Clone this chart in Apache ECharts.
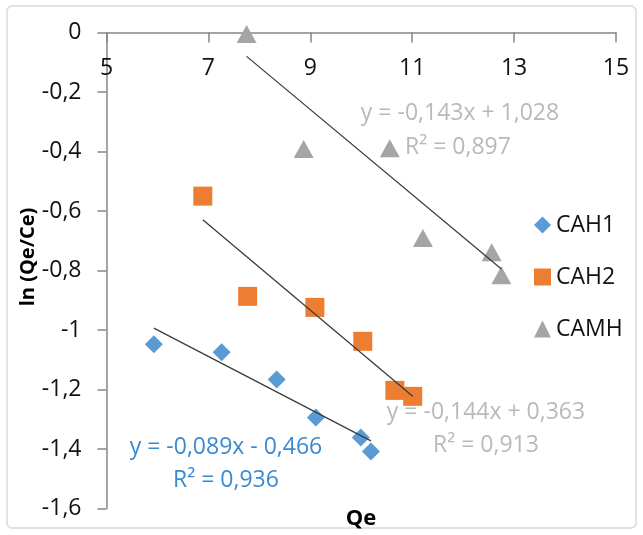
<!DOCTYPE html>
<html>
<head>
<meta charset="utf-8">
<script src="https://cdn.jsdelivr.net/npm/echarts/dist/echarts.min.js"></script>
<style>
  html, body { margin: 0; padding: 0; background: #ffffff; }
  #chart { width: 643px; height: 535px; }
</style>
</head>
<body>
<div id="chart"></div>
<script>
// Measured points for each sorbent: Qe and ln(Qe/Ce)
const seriesNames = ['CAH1', 'CAH2', 'CAMH'];
const cah1Qe = [5.93, 7.26, 8.34, 9.11, 9.99, 10.19];
const cah1Ln = [-1.048, -1.075, -1.166, -1.294, -1.361, -1.408];
const cah2Qe = [6.89, 7.77, 9.09, 10.03, 10.66, 11.01];
const cah2Ln = [-0.550, -0.887, -0.924, -1.038, -1.203, -1.223];
const camhQe = [7.75, 8.87, 10.56, 11.21, 12.56, 12.75];
const camhLn = [-0.005, -0.392, -0.389, -0.691, -0.739, -0.816];

// Linear fits y = a·x + b and their R² values, as printed on the chart
const fitSlope = [-0.089, -0.144, -0.143];
const fitIntercept = [-0.466, 0.363, 1.028];
const fitR2 = ['0,936', '0,913', '0,897'];
const fitText = ['y = -0,089x - 0,466', 'y = -0,144x + 0,363', 'y = -0,143x + 1,028'];

const FONT = '"Open Sans", "Liberation Sans", sans-serif';

function pairs(xs, ys) { return xs.map((x, i) => [x, ys[i]]); }

// Fit line spans the range of the measured Qe values
function fitLine(xs, k) {
  const x0 = Math.min(...xs), x1 = Math.max(...xs);
  return [[x0, fitSlope[k] * x0 + fitIntercept[k]], [x1, fitSlope[k] * x1 + fitIntercept[k]]];
}

const commaNum = v => String(+Number(v).toFixed(1)).replace('.', ',');

const chart = echarts.init(document.getElementById('chart'), null, { renderer: 'canvas' });

const trendStyle = { color: '#3c3c3c', width: 1.3 };

chart.setOption({
  animation: false,
  backgroundColor: '#ffffff',
  grid: { left: 106.5, right: 27, top: 32.5, bottom: 26.5, containLabel: false },
  // Qe axis sits on the y = 0 line (top of the plot); ticks and labels hang below it
  xAxis: {
    type: 'value', min: 5, max: 15, interval: 2,
    position: 'top',
    axisLine: { show: true, onZero: false, lineStyle: { color: '#878787', width: 1.5 } },
    axisTick: { show: true, inside: true, length: 10, lineStyle: { color: '#878787', width: 1.5 } },
    axisLabel: { inside: true, margin: 24, fontSize: 23, color: '#111111', fontFamily: FONT },
    splitLine: { show: false }
  },
  yAxis: {
    type: 'value', min: -1.6, max: 0, interval: 0.2,
    axisLine: { show: true, onZero: false, lineStyle: { color: '#878787', width: 1.5 } },
    axisTick: { show: true, inside: false, length: 9, lineStyle: { color: '#878787', width: 1.5 } },
    axisLabel: { margin: 25, fontSize: 23, color: '#111111', fontFamily: FONT, formatter: commaNum },
    splitLine: { show: false }
  },
  legend: {
    orient: 'vertical', left: 529, top: 208,
    itemWidth: 17, itemHeight: 17, itemGap: 28,
    textStyle: { fontSize: 23, lineHeight: 24, color: '#111111', fontFamily: FONT },
    data: [
      { name: seriesNames[0], icon: 'diamond' },
      { name: seriesNames[1], icon: 'rect' },
      { name: seriesNames[2], icon: 'triangle' }
    ]
  },
  series: [
    { name: seriesNames[0], type: 'scatter', symbol: 'diamond', symbolSize: 18,
      itemStyle: { color: '#5B9BD5', opacity: 1 }, data: pairs(cah1Qe, cah1Ln), z: 2 },
    { name: seriesNames[1], type: 'scatter', symbol: 'rect', symbolSize: 19,
      itemStyle: { color: '#ED7D31', opacity: 1 }, data: pairs(cah2Qe, cah2Ln), z: 2 },
    { name: seriesNames[2], type: 'scatter', symbol: 'triangle', symbolSize: [20, 18],
      itemStyle: { color: '#A5A5A5', opacity: 1 }, data: pairs(camhQe, camhLn), z: 2 },
    { name: 'fit-CAH1', type: 'line', data: fitLine(cah1Qe, 0), symbol: 'none', silent: true,
      lineStyle: trendStyle, z: 3 },
    { name: 'fit-CAH2', type: 'line', data: fitLine(cah2Qe, 1), symbol: 'none', silent: true,
      lineStyle: trendStyle, z: 3 },
    { name: 'fit-CAMH', type: 'line', data: fitLine(camhQe, 2), symbol: 'none', silent: true,
      lineStyle: trendStyle, z: 3 }
  ],
  graphic: [
    // chart frame
    { type: 'rect', shape: { x: 7, y: 6, width: 629, height: 522, r: 5 },
      style: { fill: 'none', stroke: '#d9d9d9', lineWidth: 1.5 }, z: 0, silent: true },
    // axis titles
    { type: 'text', x: 361, y: 519, style: { text: 'Qe', textAlign: 'center', textVerticalAlign: 'middle',
      font: 'bold 22px ' + FONT, fill: '#000000' } },
    { type: 'text', x: 28, y: 257, rotation: Math.PI / 2, style: { text: 'ln (Qe/Ce)', textAlign: 'center',
      textVerticalAlign: 'middle', font: 'bold 20px ' + FONT, fill: '#000000' } },
    // fit equations
    { type: 'text', x: 226, y: 447, style: { text: fitText[0], textAlign: 'center', textVerticalAlign: 'middle',
      font: '23px ' + FONT, fill: '#3A8AD2' } },
    { type: 'text', x: 226, y: 480, style: { text: 'R² = ' + fitR2[0], textAlign: 'center', textVerticalAlign: 'middle',
      font: '23px ' + FONT, fill: '#3A8AD2' } },
    { type: 'text', x: 486, y: 412, style: { text: fitText[1], textAlign: 'center', textVerticalAlign: 'middle',
      font: '23px ' + FONT, fill: '#B9B9B9' } },
    { type: 'text', x: 486, y: 445, style: { text: 'R² = ' + fitR2[1], textAlign: 'center', textVerticalAlign: 'middle',
      font: '23px ' + FONT, fill: '#B9B9B9' } },
    { type: 'text', x: 460, y: 113, style: { text: fitText[2], textAlign: 'center', textVerticalAlign: 'middle',
      font: '23px ' + FONT, fill: '#B9B9B9' } },
    { type: 'text', x: 458, y: 147, style: { text: 'R² = ' + fitR2[2], textAlign: 'center', textVerticalAlign: 'middle',
      font: '23px ' + FONT, fill: '#B9B9B9' } }
  ]
});
</script>
</body>
</html>
